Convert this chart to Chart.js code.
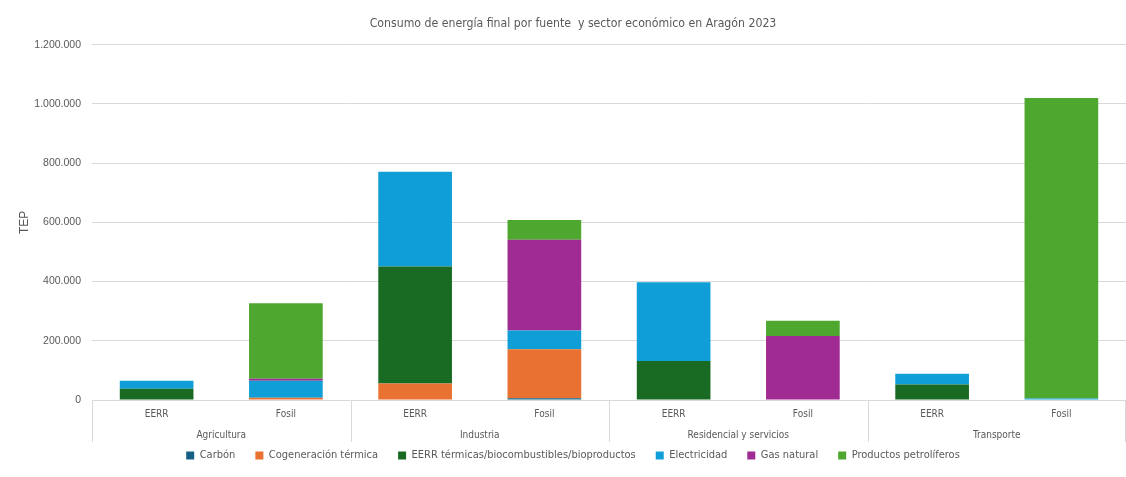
<!DOCTYPE html>
<html>
<head>
<meta charset="utf-8">
<script src="https://cdn.jsdelivr.net/npm/chart.js@4"></script>
<style>
  html, body { margin: 0; padding: 0; background: #fff; }
  #wrap { width: 1126px; height: 477px; position: relative; }
</style>
</head>
<body>
<div id="wrap"><canvas id="energy-chart"></canvas></div>
<script>
// categories: two bars (EERR / Fosil) per economic sector
const sectors = ['Agricultura', 'Industria', 'Residencial y servicios', 'Transporte'];
const sourceTypes = ['EERR', 'Fosil'];
const barLabels = ['EERR', 'Fosil', 'EERR', 'Fosil', 'EERR', 'Fosil', 'EERR', 'Fosil'];

// TEP values, in barLabels order
const carbon       = [0, 0, 0, 6000, 0, 0, 0, 0];
const cogeneracion = [2000, 8000, 56000, 165000, 0, 0, 0, 0];
const eerrTermicas = [36000, 0, 395000, 0, 132000, 0, 52000, 0];
const electricidad = [27000, 57000, 320000, 64000, 266000, 0, 37000, 5000];
const gasNatural   = [0, 7000, 0, 306000, 0, 216000, 0, 0];
const petroliferos = [0, 255000, 0, 67000, 0, 52000, 0, 1015000];

const yTicks = [0, 200000, 400000, 600000, 800000, 1000000, 1200000];

const grey = '#595959';
const narrow = "'Liberation Sans Narrow', 'DejaVu Sans Condensed', sans-serif";
const plain = "'Liberation Sans', Arial, sans-serif";

function fmt(v) {
  return String(v).replace(/\B(?=(\d{3})+(?!\d))/g, '.');
}

// sector labels under the EERR/Fosil ticks, plus the separator lines
const sectorAxis = {
  id: 'sectorAxis',
  afterDraw(chart) {
    const x = chart.scales.x;
    const ctx = chart.ctx;
    const area = chart.chartArea;
    const per = sourceTypes.length;
    const lineBottom = 442;
    const labelY = 435;

    const edges = [area.left];
    for (let g = 1; g < sectors.length; g++) {
      const i = g * per;
      edges.push((x.getPixelForTick(i - 1) + x.getPixelForTick(i)) / 2);
    }
    edges.push(area.right - 1);

    ctx.save();
    ctx.strokeStyle = '#d9d9d9';
    ctx.lineWidth = 1;
    edges.forEach(px => {
      const p = Math.round(px) + 0.5;
      ctx.beginPath();
      ctx.moveTo(p, area.bottom);
      ctx.lineTo(p, lineBottom);
      ctx.stroke();
    });

    ctx.fillStyle = grey;
    ctx.font = '10px ' + narrow;
    ctx.textAlign = 'center';
    ctx.textBaseline = 'middle';
    sectors.forEach((name, g) => {
      const a = x.getPixelForTick(g * per);
      const b = x.getPixelForTick(g * per + per - 1);
      ctx.fillText(name, (a + b) / 2, labelY);
    });
    ctx.restore();
  }
};

const ctx = document.getElementById('energy-chart').getContext('2d');
new Chart(ctx, {
  type: 'bar',
  data: {
    labels: barLabels,
    datasets: [
      { label: 'Carbón', data: carbon, backgroundColor: '#156082' },
      { label: 'Cogeneración térmica', data: cogeneracion, backgroundColor: '#E97132' },
      { label: 'EERR térmicas/biocombustibles/bioproductos', data: eerrTermicas, backgroundColor: '#196B24' },
      { label: 'Electricidad', data: electricidad, backgroundColor: '#0F9ED5' },
      { label: 'Gas natural', data: gasNatural, backgroundColor: '#A02B93' },
      { label: 'Productos petrolíferos', data: petroliferos, backgroundColor: '#4EA72E' }
    ]
  },
  options: {
    responsive: true,
    maintainAspectRatio: false,
    animation: false,
    datasets: {
      bar: { categoryPercentage: 1, barPercentage: 0.57 }
    },
    layout: {
      padding: { left: 20, right: 0, top: 0, bottom: 6 }
    },
    plugins: {
      title: {
        display: true,
        text: 'Consumo de energía final por fuente  y sector económico en Aragón 2023',
        color: grey,
        font: { family: narrow, size: 12.2, weight: 'normal' },
        padding: { top: 17, bottom: 13 }
      },
      legend: {
        position: 'bottom',
        labels: {
          color: grey,
          font: { family: narrow, size: 11 },
          boxWidth: 8,
          boxHeight: 8,
          padding: 20
        }
      },
      tooltip: { enabled: false }
    },
    scales: {
      x: {
        stacked: true,
        grid: { display: false },
        border: { display: false },
        ticks: {
          color: grey,
          font: { family: narrow, size: 10 },
          padding: 0
        },
        afterFit(scale) { scale.height = 30; }
      },
      y: {
        stacked: true,
        min: 0,
        max: 1200000,
        afterBuildTicks(scale) {
          scale.ticks = yTicks.map(v => ({ value: v }));
        },
        grid: { color: '#d9d9d9', drawTicks: false },
        border: { display: false },
        ticks: {
          color: grey,
          font: { family: plain, size: 10.5 },
          padding: 11,
          callback: v => fmt(v)
        },
        title: {
          display: true,
          text: 'TEP',
          color: grey,
          font: { family: plain, size: 12 },
          padding: { top: -3, bottom: 0 }
        },
        afterFit(scale) { scale.width = 72; }
      }
    }
  },
  plugins: [sectorAxis]
});
</script>
</body>
</html>
